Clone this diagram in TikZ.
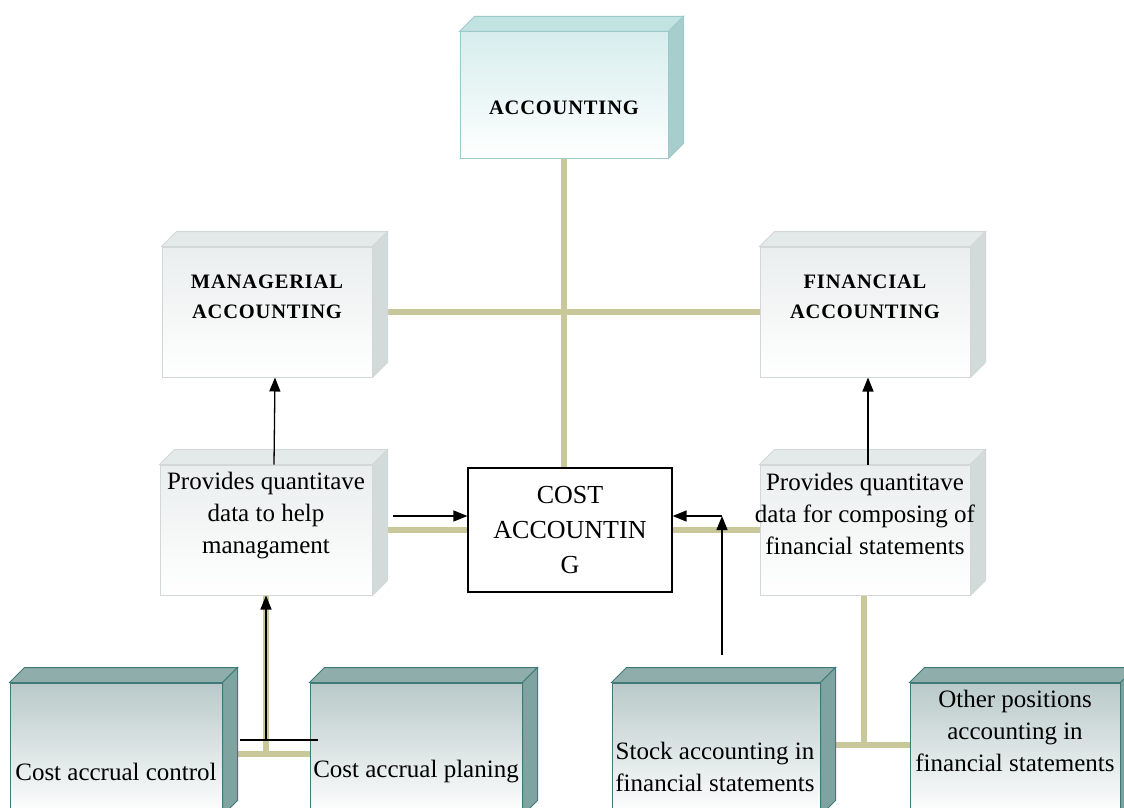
\documentclass[tikz,border=0pt]{standalone}
\usepackage{fontspec}
\setmainfont{Liberation Serif}
\newfontfamily\headfont[LetterSpace=4]{Liberation Serif}
\usetikzlibrary{arrows.meta,calc,backgrounds}

\definecolor{linktan}{HTML}{C8C89A}
\definecolor{cyanface}{HTML}{D6EDED}
\definecolor{cyantop}{HTML}{C3E2E2}
\definecolor{cyanside}{HTML}{A8CDCD}
\definecolor{cyanedge}{HTML}{9CC9C9}
\definecolor{greyface}{HTML}{EAEEEE}
\definecolor{greytop}{HTML}{E4E9E9}
\definecolor{greyside}{HTML}{D3DADA}
\definecolor{greyedge}{HTML}{D2D8D8}
\definecolor{tealface}{HTML}{B9C9C9}
\definecolor{tealtop}{HTML}{8FAEAB}
\definecolor{tealside}{HTML}{7FA3A0}
\definecolor{tealedge}{HTML}{3F7A78}

% top and right faces of a box, drawn from the front node
\newcommand{\boxsides}[4]{%
  \filldraw[fill=#2, draw=#4, line width=1pt] (#1.north west) -- ++(15,-15)
    -- ($(#1.north east)+(15,-15)$) -- (#1.north east) -- cycle;
  \filldraw[fill=#3, draw=#4, line width=1pt] (#1.north east) -- ++(15,-15)
    -- ($(#1.south east)+(15,-15)$) -- (#1.south east) -- cycle;
}

\begin{document}
\begin{tikzpicture}[x=1pt, y=-1pt,
    front/.style={rectangle, draw=#1, line width=1pt, inner sep=0pt,
      minimum width=210pt, minimum height=130pt},
    head/.style={inner sep=0pt, align=center, font=\headfont\bfseries\fontsize{20.5}{30}\selectfont},
    body/.style={inner sep=0pt, align=center, font=\fontsize{25}{32}\selectfont},
    link/.style={draw=linktan, line width=6pt},
    arr/.style={-{Triangle[width=11pt,length=14pt]}, line width=1.3pt}]

    \path[use as bounding box] (0,0) rectangle (1124,808);

    % Front faces of the boxes
    \node[front=cyanedge, top color=cyanface, bottom color=white, minimum width=208pt, minimum height=126pt] (acc) at (564,95) {};
    \node[front=greyedge, top color=greyface, bottom color=white] (mgr) at (267,312) {};
    \node[front=greyedge, top color=greyface, bottom color=white] (fin) at (865,312) {};
    \node[front=greyedge, top color=greyface, bottom color=white, minimum width=212pt] (mgrdata) at (266,530) {};
    \node[front=greyedge, top color=greyface, bottom color=white] (findata) at (865,530) {};
    \node[rectangle, draw=black, line width=1.2pt, fill=white, inner sep=0pt, minimum width=204pt, minimum height=124pt,
      align=center, font=\fontsize{26}{35}\selectfont] (cost) at (570,530) {COST\\ACCOUNTIN\\G};
    \node[front=tealedge, top color=tealface, bottom color=white, minimum width=212pt, minimum height=132pt] (ctrl) at (116,749) {};
    \node[front=tealedge, top color=tealface, bottom color=white, minimum width=212pt, minimum height=132pt] (plan) at (416,749) {};
    \node[front=tealedge, top color=tealface, bottom color=white, minimum width=208pt, minimum height=132pt] (stock) at (716,749) {};
    \node[front=tealedge, top color=tealface, bottom color=white, minimum height=132pt] (other) at (1015,749) {};

    % Top and side faces
    \boxsides{acc}{cyantop}{cyanside}{cyanedge}
    \boxsides{mgr}{greytop}{greyside}{greyedge}
    \boxsides{fin}{greytop}{greyside}{greyedge}
    \boxsides{mgrdata}{greytop}{greyside}{greyedge}
    \boxsides{findata}{greytop}{greyside}{greyedge}
    \boxsides{ctrl}{tealtop}{tealside}{tealedge}
    \boxsides{plan}{tealtop}{tealside}{tealedge}
    \boxsides{stock}{tealtop}{tealside}{tealedge}
    \boxsides{other}{tealtop}{tealside}{tealedge}

    % Texts
    \node[head] (acctxt) at (564,108) {ACCOUNTING};
    \node[head] (mgrtxt) at (267,297) {MANAGERIAL\\ACCOUNTING};
    \node[head] (fintxt) at (865,297) {FINANCIAL\\ACCOUNTING};
    \node[body] (mgrdatatxt) at (266,516) {Provides quantitave\\data to help\\managament};
    \node[body] (findatatxt) at (865,514) {Provides quantitave\\data for composing of\\financial statements};
    \node[body] (ctrltxt) at (116,772) {Cost accrual control};
    \node[body] (plantxt) at (416,772) {Cost accrual planing};
    \node[body] (stocktxt) at (715,767) {Stock accounting in\\financial statements};
    \node[body] (othertxt) at (1015,731) {Other positions\\accounting in\\financial statements};

    % Free ends of the arrows
    \coordinate (mgrarrow) at (393,516);
    \coordinate (stockup) at (722,655);
    \coordinate (bend) at (722,516);
    \coordinate (ctrlarrow) at (266,740);
    \coordinate (finjoin) at (864,745);
    \coordinate (mgrjoin) at (266,754);

    % Tan links behind the boxes
    \begin{scope}[on background layer]
        \fill[white] (0,0) rectangle (1124,808);
        \draw[link] (acc.south) -- (acc.south |- cost.north);
        \draw[link] (mgr.east) -- (fin.west);
        \draw[link] (mgrdata.east) -- (cost.west);
        \draw[link] (cost.east) -- (findata.west);
        \draw[link] (findata.south -| finjoin) -- (finjoin);
        \draw[link] (stock.east |- finjoin) -- (other.west |- finjoin);
        \draw[link] (mgrdata.south) -- (mgrjoin);
        \draw[link] (ctrl.east |- mgrjoin) -- (plan.west |- mgrjoin);
    \end{scope}

    % Black arrows
    \draw[arr] ($(mgrdata.north)+(8,0)$) -- ($(mgr.south)+(8,0)$);
    \draw[arr] ($(findata.north)+(3,0)$) -- ($(fin.south)+(3,0)$);
    \draw[arr] (mgrarrow) -- (mgrarrow -| cost.west);
    \draw[arr] (stockup) -- (bend);
    \draw[arr] (bend) -- (bend -| cost.east);
    \draw[arr] (ctrlarrow) -- (mgrdata.south);
    \draw[line width=1.3pt] ($(ctrlarrow)+(-26,0)$) -- ($(ctrlarrow)+(52,0)$);
\end{tikzpicture}
\end{document}
